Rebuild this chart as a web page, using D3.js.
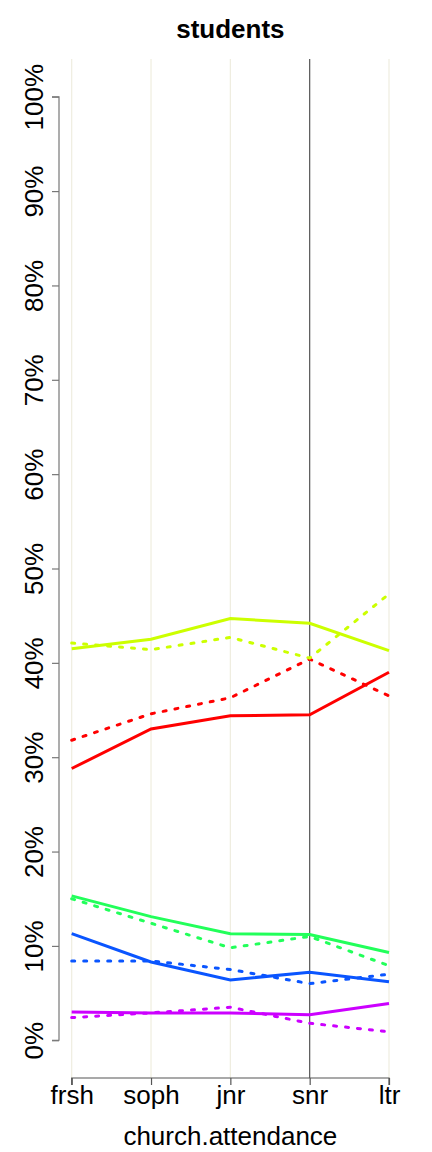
<!DOCTYPE html>
<html><head><meta charset="utf-8">
<script src="https://cdn.jsdelivr.net/npm/d3@7"></script>
<style>body{margin:0;background:#fff}svg{display:block}</style>
</head><body>
<script>
const categories = ["frsh","soph","jnr","snr","ltr"];
const yTicks = [0,0.1,0.2,0.3,0.4,0.5,0.6,0.7,0.8,0.9,1.0];
const seriesNames = ["red","yellow","green","blue","purple"];
const seriesColors = ["#ff0000","#ccff00","#22ff5a","#0a55ff","#cc00ff"];
const solidRed    = [0.288,0.330,0.344,0.345,0.390];
const dashedRed   = [0.318,0.346,0.363,0.404,0.365];
const solidYellow = [0.415,0.425,0.447,0.442,0.413];
const dashedYellow= [0.421,0.414,0.427,0.405,0.473];
const solidGreen  = [0.153,0.131,0.113,0.112,0.093];
const dashedGreen = [0.150,0.124,0.098,0.110,0.079];
const solidBlue   = [0.113,0.083,0.064,0.072,0.062];
const dashedBlue  = [0.084,0.084,0.075,0.060,0.070];
const solidPurple = [0.030,0.029,0.029,0.027,0.039];
const dashedPurple= [0.024,0.029,0.035,0.018,0.009];
const highlight = "snr";

(function(){
const W=432,H=1152;
const pL=59,pR=401.7,pT=59,pB=1078;
const svg=d3.select("body").append("svg").attr("width",W).attr("height",H);
const x=d3.scalePoint().domain(categories).range([71.7,389]);
const y=d3.scaleLinear().domain([-0.04,1.04]).range([pB,pT]);
const font="Liberation Sans, Arial, Helvetica, sans-serif";

// grid
svg.append("g").selectAll("line").data(categories).join("line")
  .attr("x1",d=>x(d)).attr("x2",d=>x(d)).attr("y1",pT).attr("y2",pB)
  .attr("stroke",d=>d===highlight?"#555":"#efeddf").attr("stroke-width",1.2);

// title
svg.append("text").attr("x",(pL+pR)/2).attr("y",38).attr("text-anchor","middle")
  .attr("font-family",font).attr("font-weight","bold").attr("font-size",26).text("students");

// y axis
const yAxis=d3.axisLeft(y).tickValues(yTicks).tickSize(7).tickFormat(d3.format(".0%"));
const ga=svg.append("g").attr("transform",`translate(${pL},0)`).call(yAxis);
ga.select(".domain").attr("d",`M-7,${y(0)}H0V${y(1)}H-7`).attr("stroke","#777").attr("stroke-width",1.2).attr("fill","none");
ga.selectAll(".tick line").attr("stroke","#777").attr("stroke-width",1.2);
ga.selectAll(".tick text").attr("font-family",font).attr("font-size",26).attr("fill","#000")
  .attr("text-anchor","middle").attr("dy",null).attr("x",null).attr("transform","translate(-16.5,0) rotate(-90)");

// x axis
const xAxis=d3.axisBottom(x).tickSize(7);
const gx=svg.append("g").attr("transform",`translate(0,${pB})`).call(xAxis);
gx.select(".domain").attr("d",`M${x(categories[0])},7V0H${x(categories[4])}V7`).attr("stroke","#555").attr("stroke-width",1.2).attr("fill","none");
gx.selectAll(".tick line").attr("stroke","#555").attr("stroke-width",1.2);
gx.selectAll(".tick text").attr("font-family",font).attr("font-size",26).attr("fill","#000").attr("dy",null).attr("y",26);

svg.append("text").attr("x",(pL+pR)/2).attr("y",1145).attr("text-anchor","middle")
  .attr("font-family",font).attr("font-size",26).text("church.attendance");

const series=[
  {v:solidRed,c:0,d:false},{v:dashedRed,c:0,d:true},
  {v:solidYellow,c:1,d:false},{v:dashedYellow,c:1,d:true},
  {v:solidGreen,c:2,d:false},{v:dashedGreen,c:2,d:true},
  {v:solidBlue,c:3,d:false},{v:dashedBlue,c:3,d:true},
  {v:solidPurple,c:4,d:false},{v:dashedPurple,c:4,d:true}
];
const line=d3.line().x((d,i)=>x(categories[i])).y(d=>y(d));
svg.append("g").selectAll("path").data(series).join("path")
  .attr("d",s=>line(s.v)).attr("fill","none")
  .attr("stroke",s=>seriesColors[s.c]).attr("stroke-width",3)
  .attr("stroke-dasharray",s=>s.d?"3,9":null)
  .attr("stroke-linecap",s=>s.d?"round":"butt");
})();
</script>
</body></html>
